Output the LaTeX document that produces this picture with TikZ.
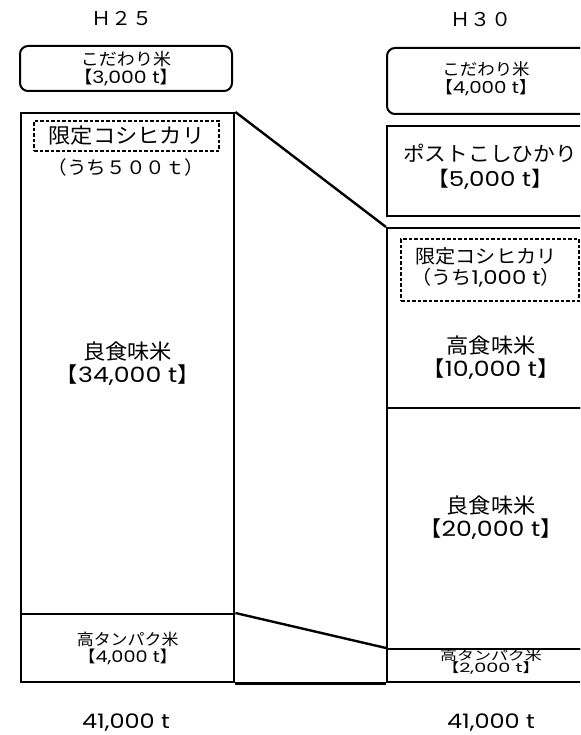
\documentclass[tikz,border=0pt]{standalone}
\usepackage{fontspec}
\setmainfont[FakeStretch=1.06]{Noto Sans CJK JP}
\newfontfamily\lat[FakeStretch=1.2]{Poppins}
\newcommand{\amt}[1]{【{\lat #1}】}
\begin{document}
\begin{tikzpicture}[x=1pt,y=-1pt]
        \tikzset{col/.style = {draw,line width=2.4pt,anchor=north west,inner sep=0pt,align=center}}
        \tikzset{roundbox/.style = {col,rounded corners=8pt,line width=2pt}}
        \tikzset{dashbox/.style = {draw,line width=2pt,dash pattern=on 3.5pt off 2pt,anchor=north west,inner sep=0pt,align=center}}
        \tikzset{txt/.style = {inner sep=0pt,align=center}}
        \tikzset{link/.style = {line width=2.4pt}}
        \clip (0,0) rectangle (580,735);
        % years
        \node[txt,font=\fontsize{19}{22}\selectfont] (y25) at (122,19) {Ｈ２５};
        \node[txt,font=\fontsize{19}{22}\selectfont] (y30) at (481,20) {Ｈ３０};
        % column on the left
        \node[roundbox,minimum width=212pt,minimum height=45pt,font=\fontsize{17}{18}\selectfont] (k25) at (19,45) {こだわり米\\\amt{3,000 t}};
        \node[col,minimum width=213pt,minimum height=501pt,font=\fontsize{21}{23}\selectfont] (g25) at (20,112) {良食味米\\\amt{34,000 t}};
        \node[col,minimum width=213pt,minimum height=68pt,font=\fontsize{16}{17}\selectfont] (p25) at (20,613) {高タンパク米\\\amt{4,000 t}};
        \node[dashbox,minimum width=185pt,minimum height=30pt,font=\fontsize{21}{22}\selectfont] (l25) at (33,120) {限定コシヒカリ};
        \node[txt,font=\fontsize{18.5}{20}\selectfont] (u25) at (126,167) {（うち５００ｔ）};
        % column on the right
        \node[roundbox,minimum width=210pt,minimum height=66pt] (k30) at (386,47) {};
        \node[txt,font=\fontsize{16.5}{18}\selectfont] at (486,79) {こだわり米\\\amt{4,000 t}};
        \node[col,minimum width=210pt,minimum height=90pt] (s30) at (386,125) {};
        \node[txt,font=\fontsize{20.5}{25}\selectfont] at (490,167) {ポストこしひかり\\\amt{5,000 t}};
        \node[col,minimum width=210pt,minimum height=180pt] (h30) at (386,227) {};
        \node[col,minimum width=210pt,minimum height=241pt] (g30) at (386,407) {};
        \node[col,minimum width=210pt,minimum height=33pt] (p30) at (386,648) {};
        \node[dashbox,minimum width=178pt,minimum height=62pt] (l30) at (400,238) {};
        \node[txt,font=\fontsize{19}{21}\selectfont] at (486,267) {限定コシヒカリ\\（うち{\lat 1,000 t}）};
        \node[txt,font=\fontsize{21}{23}\selectfont] at (491,358) {高食味米\\\amt{10,000 t}};
        \node[txt,font=\fontsize{21}{23}\selectfont] at (491,518) {良食味米\\\amt{20,000 t}};
        \node[txt,font=\fontsize{16}{15}\selectfont,yscale=0.8] at (491,662) {高タンパク米\\\amt{2,000 t}};
        % totals
        \node[txt,font=\fontsize{20}{22}\selectfont\lat] (t25) at (126,723) {41,000 t};
        \node[txt,font=\fontsize{20}{22}\selectfont\lat] (t30) at (491,723) {41,000 t};
        % links between the years
        \draw[link] (g25.north east) -- (h30.north west);
        \draw[link] (p25.north east) -- (p30.north west);
        \draw[link] (p25.south east) -- (p30.south west);
\end{tikzpicture}
\end{document}
